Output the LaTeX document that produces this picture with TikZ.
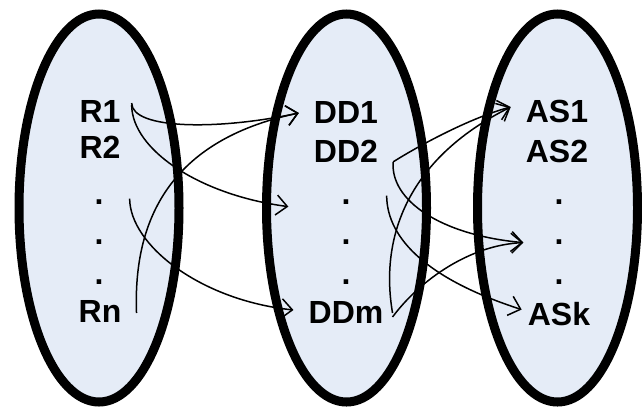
\documentclass[tikz,border=0pt]{standalone}
\usepackage{fontspec}
\setmainfont{Liberation Sans}
\usepackage{tikz}
\usetikzlibrary{calc}
\usetikzlibrary{shapes,arrows.meta}
\definecolor{setfill}{RGB}{229,236,247}

\begin{document}
\begin{tikzpicture}[x=1pt,y=-1pt]
     \tikzstyle{every node}=[font=\bfseries\fontsize{32}{32}\selectfont,anchor=base,inner xsep=11pt,inner ysep=2pt]
     \tikzstyle{set}=[draw=black,line width=9pt,fill=setfill]
     \tikzstyle{link}=[line width=1.5pt,-{Straight Barb[length=11pt,width=20pt]}]
   	  \pgfmathsetmacro\rx{80}
   	  \pgfmathsetmacro\ry{194}
      \useasboundingbox (0,0) rectangle (642,408);
      % the three sets
      \draw [set] (99,208) ellipse [x radius=\rx, y radius=\ry];
      \draw [set] (346.5,208) ellipse [x radius=\rx, y radius=\ry];
      \draw [set] (557.5,208) ellipse [x radius=\rx, y radius=\ry];
      % R
      \node (R1) at (100,122) {R1};
      \node (R2) at (100,158) {R2};
      \node (rd1) at (99,204) {.};
      \node (rd2) at (99,244) {.};
      \node (rd3) at (99,284) {.};
      \node (Rn) at (100,322) {Rn};
      % DD
      \node (DD1) at (346,123) {DD1};
      \node (DD2) at (346,162) {DD2};
      \node (dd1) at (346,204) {.};
      \node (dd2) at (346,244) {.};
      \node (dd3) at (346,284) {.};
      \node (DDm) at (346,323) {DDm};
      % AS
      \node (AS1) at (557,122) {AS1};
      \node (AS2) at (557,162) {AS2};
      \node (ad1) at (559,204) {.};
      \node (ad2) at (559,244) {.};
      \node (ad3) at (559,284) {.};
      \node (ASk) at (559,325) {ASk};
      % R -> DD
      \draw [link] ($(R1.east)+(0,-8)$) .. controls (132,130) and (220,130) .. ($(DD1.west)+(-4,1)$);
      \draw [link] ($(R1.east)+(0,-6)$) .. controls (132,150) and (200,195) .. ($(dd1.west)+(-42,5)$);
      \draw [link] ($(rd1.east)+(15,-3)$) .. controls (130,245) and (200,300) .. ($(DDm.west)+(-4,-2)$);
      \draw [link] ($(Rn.east)+(4,2)$) .. controls (133,220) and (170,140) .. ($(DD1.west)+(-4,1)$);
      % DD -> AS
      \draw [link] ($(DD2.east)+(4,11)$) .. controls (420,145) and (470,118) .. ($(AS1.west)+(-4,-4)$);
      \draw [link] ($(DD2.east)+(4,11)$) .. controls (390,200) and (440,235) .. ($(ad2.west)+(-20,1)$);
      \draw [link] ($(dd1.east)+(25,-6)$) .. controls (387,240) and (430,280) .. ($(ASk.west)+(5,-4)$);
      \draw [link] ($(DDm.east)+(-2,1)$) .. controls (380,240) and (405,160) .. ($(AS1.west)+(-4,-4)$);
      \draw [link] ($(DDm.east)+(-2,5)$) .. controls (420,280) and (470,245) .. ($(ad2.west)+(-20,1)$);
    \end{tikzpicture}
\end{document}
